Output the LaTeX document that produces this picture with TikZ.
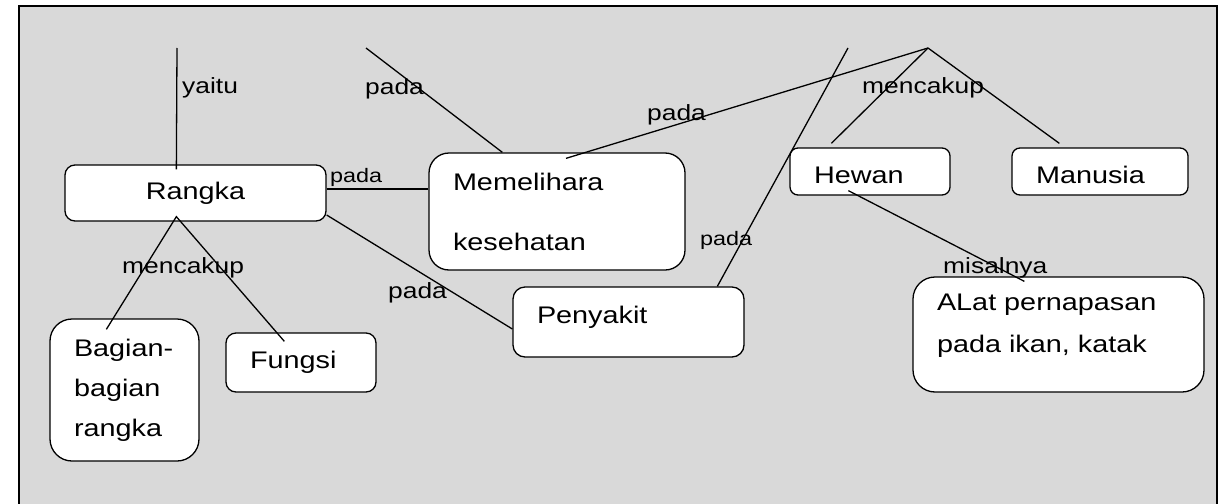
\documentclass[tikz,border=0pt]{standalone}
\usepackage{fontspec}
\setmainfont[FakeStretch=1.2]{Liberation Sans}
\definecolor{bggray}{RGB}{217,217,217}
\begin{document}
\begin{tikzpicture}[x=1pt, y=-1pt,
  box/.style={draw, fill=white, line width=1.3pt, rounded corners=#1, inner xsep=24pt, inner ysep=0pt, align=left, font=\fontsize{24}{40}\selectfont},
  box/.default=10pt,
  lbl/.style={anchor=base west, inner sep=0pt, font=\fontsize{22}{26}\selectfont},
  sml/.style={anchor=base west, inner sep=0pt, font=\fontsize{19.5}{22}\selectfont},
  link/.style={line width=1.3pt}
]
\useasboundingbox (0,0) rectangle (1230,503);
\fill[bggray] (19,6) rectangle (1217,520);
\draw[line width=1.5pt] (19,6) rectangle (1217,520);

% boxes
\node[box, align=center, text width=213pt, minimum height=56pt] (rangka) at (195.5,193) {Rangka};
\node[box=20pt, text width=208pt, minimum height=117pt, font=\fontsize{24}{60}\selectfont] (mem) at (557,211.5) {Memelihara\\kesehatan};
\node[box=12pt, text width=183pt, minimum height=70pt, text depth=15pt] (peny) at (628.5,322) {Penyakit};
\node[box=8pt, text width=112pt, minimum height=47pt, text height=25pt] (hewan) at (870,171.5) {Hewan};
\node[box=8pt, text width=128pt, minimum height=47pt, text height=25pt] (manusia) at (1100,171.5) {Manusia};
\node[box=22pt, text width=243pt, minimum height=115pt, font=\fontsize{24}{42}\selectfont, text depth=64pt] (alat) at (1058.5,334.5) {ALat pernapasan\\pada ikan, katak};
\node[box=22pt, text width=101pt, minimum height=142pt] (bagian) at (124.5,390) {Bagian-\\bagian\\rangka};
\node[box, text width=102pt, minimum height=59pt] (fungsi) at (301,362.5) {Fungsi};

% free ends
\coordinate (t1) at (177,48);
\coordinate (t2) at (366,48);
\coordinate (t3) at (848,48);
\coordinate (apex) at (928,48);
\coordinate (rk) at ([xshift=112pt,yshift=5pt]rangka.south west);

% links
\draw[link] (t1) -- ([xshift=112pt,yshift=-5pt]rangka.north west);
\draw[link] (t2) -- ([xshift=74pt]mem.north west);
\draw[link] ([yshift=4pt]rangka.east) -- ([yshift=4pt]rangka.east -| mem.west);
\draw[link] ([yshift=-22pt]rangka.east) -- ([yshift=-7pt]peny.west);
\draw[link] ([xshift=9pt,yshift=-6pt]mem.north) -- (apex);
\draw[link] (apex) -- ([xshift=42pt,yshift=4pt]hewan.north west);
\draw[link] (apex) -- ([xshift=48pt,yshift=4pt]manusia.north west);
\draw[link] (t3) -- ([xshift=205pt]peny.north west);
\draw[link] ([xshift=59pt,yshift=5pt]hewan.south west) -- ([xshift=112pt,yshift=-5pt]alat.north west);
\draw[link] ([xshift=57pt,yshift=-11pt]bagian.north west) -- (rk) -- ([xshift=59pt,yshift=-9pt]fungsi.north west);

% labels
\node[lbl] (yaitu) at (182,93) {yaitu};
\node[lbl] (pada1) at (365,94) {pada};
\node[sml] (pada2) at (330,182) {pada};
\node[lbl] (pada3) at (388,298) {pada};
\node[lbl] (pada4) at (647,120) {pada};
\node[sml] (pada5) at (700,245) {pada};
\node[lbl] (mencakup1) at (862,93) {mencakup};
\node[lbl] (mencakup2) at (122,273) {mencakup};
\node[lbl] (misalnya) at (943,273) {misalnya};
\end{tikzpicture}
\end{document}
